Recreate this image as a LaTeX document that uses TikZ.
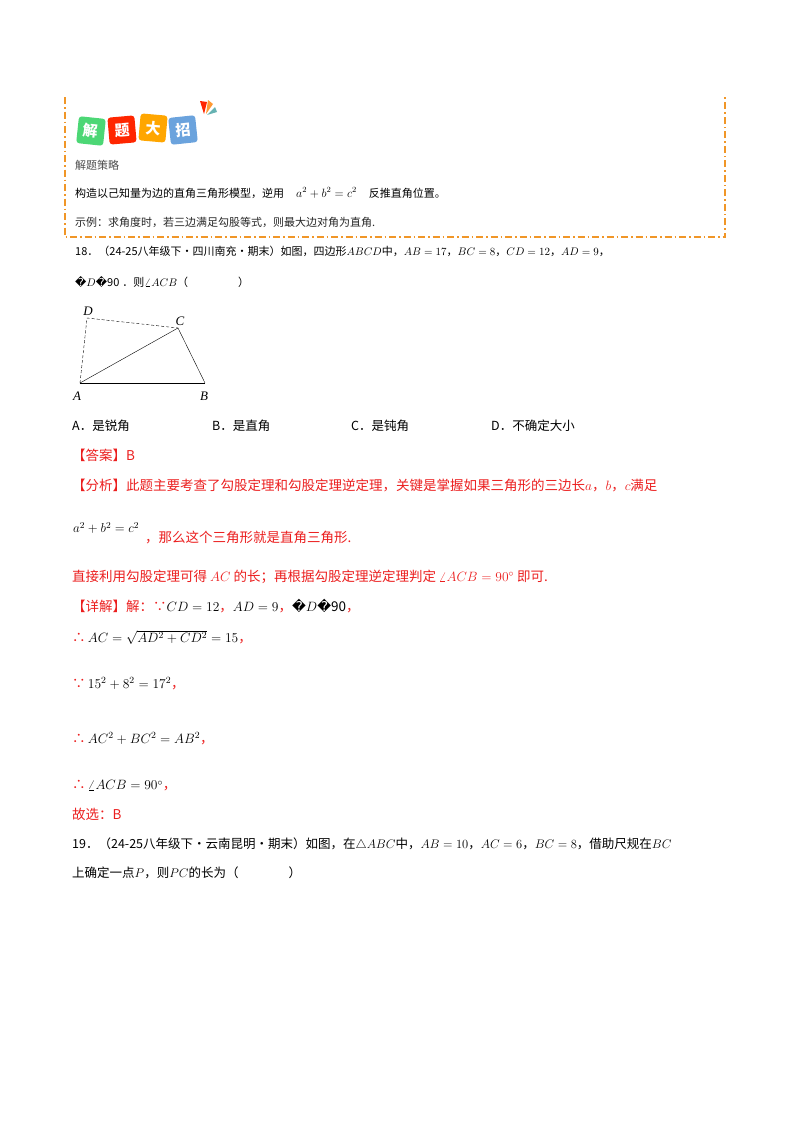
\RequirePackage{fix-cm}
\documentclass[tikz,border=0pt]{standalone}
\usepackage{fontspec}
\setmainfont{Noto Sans CJK SC}
\newfontfamily\dv{DejaVu Sans}
\newfontfamily\tm{Liberation Serif}
\definecolor{orn}{RGB}{240,150,40}
\definecolor{rd}{RGB}{235,30,30}
\begin{document}
\begin{tikzpicture}[x=1pt,y=-1pt,
  t/.style={anchor=west,inner sep=0pt,font=\fontsize{11}{13}\selectfont},
  tr/.style={anchor=west,inner sep=0pt,text=rd,font=\fontsize{13.5}{15}\selectfont},
  tb/.style={anchor=west,inner sep=0pt,font=\fontsize{12.5}{15}\selectfont},
  lab/.style={inner sep=0pt,font=\fontsize{13}{14}\selectfont\tm\itshape},
  tile/.style={minimum size=27pt,rounded corners=3pt,text=white,font=\bfseries\fontsize{15}{15}\selectfont}]
\useasboundingbox (0,0) rectangle (800,1132);
% dashed box
\coordinate (b1) at (65,97); \coordinate (b2) at (65,237);
\coordinate (b3) at (725,237); \coordinate (b4) at (725,97);
\draw[orn,line width=1.5pt,dash pattern=on 7pt off 3pt on 1.5pt off 3pt] (b1)--(b2)--(b3)--(b4);
% logo
\node[tile,fill=green!55!teal!70,rotate=-6] (l1) at (91,131) {解};
\node[tile,fill=red!70!orange,rotate=5] (l2) at (122,130) {题};
\node[tile,fill=orange!70!yellow,rotate=-5] (l3) at (153,128) {大};
\node[tile,fill=cyan!60!blue!60,rotate=6] (l4) at (183,130) {招};
\fill[red!70!orange] (204,114)--(200,101)--(207,102)--cycle;
\fill[orange!80] (206,114)--(208,100)--(213,104)--cycle;
\fill[teal!60] (207,115)--(215,107)--(217,112)--cycle;
\node[t,text=black!70] (s1) at (75,165) {解题策略};
\node[t] (s2) at (75,193) {构造以己知量为边的直角三角形模型，逆用\hspace{12pt}{\fontsize{12}{13}\selectfont$a^2+b^2=c^2$}\hspace{12pt}反推直角位置。};
\node[t,text=black!85] (s3) at (75,222) {示例：求角度时，若三边满足勾股等式，则最大边对角为直角.};
\node[t] (q1) at (75,251) {18．（24-25八年级下·四川南充·期末）如图，四边形$ABCD$中，$AB=17$，$BC=8$，$CD=12$，$AD=9$，};
\node[t] (q2) at (75,282) {{\dv �}$D${\dv �}90\;．则$\angle ACB$（\hspace{50pt}）};
% figure
\coordinate (A) at (80,383); \coordinate (B) at (205,383);
\coordinate (C) at (178,328); \coordinate (D) at (87,318);
\draw[densely dashed,thin] (A)--(D)--(C);
\draw[thick] (A)--(B);
\draw (B)--(C)--(A);
\node[lab] (la) at (77,396) {A};
\node[lab] (lb) at (204,396) {B};
\node[lab] (lc) at (180,321) {C};
\node[lab] (ld) at (88,311) {D};
% options
\node[tb] (oa) at (72,426) {A．是锐角};
\node[tb] (ob) at (212,426) {B．是直角};
\node[tb] (oc) at (351,426) {C．是钝角};
\node[tb] (od) at (491,426) {D．不确定大小};
\node[tr] (ans) at (72,455) {【答案】B};
\node[tr] (an1) at (72,485) {【分析】此题主要考查了勾股定理和勾股定理逆定理，关键是掌握如果三角形的三边长$a$，$b$，$c$满足};
\node[anchor=west,inner sep=0pt,font=\fontsize{13}{14}\selectfont] (an2) at (73,528) {$a^2+b^2=c^2$};
\node[tr] (an3) at (145,538) {，那么这个三角形就是直角三角形.};
\node[tr] (an4) at (72,577) {直接利用勾股定理可得 $AC$ 的长；再根据勾股定理逆定理判定 $\angle ACB=90^\circ$ 即可.};
\node[tr] (d1) at (72,606) {【详解】解：∵$\color{black}CD=12$，$\color{black}AD=9$，{\dv\color{black}�}$\color{black}D${\dv\color{black}�}{\color{black}90}，};
\node[tr] (d2) at (72,637) {∴\,$\color{black}AC=\sqrt{AD^2+CD^2}=15$，};
\node[tr] (d3) at (72,684) {∵\,$\color{black}15^2+8^2=17^2$，};
\node[tr] (d4) at (72,739) {∴\,$\color{black}AC^2+BC^2=AB^2$，};
\node[tr] (d5) at (72,786) {∴\,$\color{black}\angle ACB=90^\circ$，};
\node[tr] (d6) at (72,814) {故选：B};
\node[tb] (q19a) at (72,844) {19．（24-25八年级下·云南昆明·期末）如图，在$\triangle ABC$中，$AB=10$，$AC=6$，$BC=8$，借助尺规在$BC$};
\node[tb] (q19b) at (72,873) {上确定一点$P$，则$PC$的长为（\hspace{50pt}）};
\end{tikzpicture}
\end{document}
